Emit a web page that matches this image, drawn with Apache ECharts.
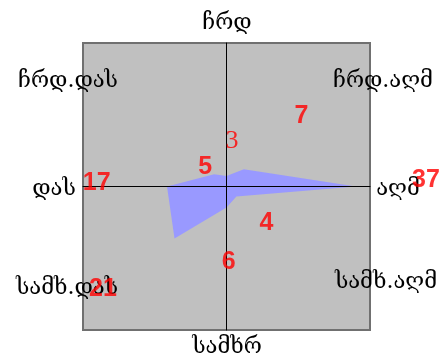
<!DOCTYPE html>
<html lang="ka">
<head>
    <meta charset="UTF-8">
    <title>ქარის ვარდი</title>
    <style>
        body { margin: 0; padding: 0; background: #fff; }
        #rose { width: 443px; height: 361px; }
    </style>
</head>
<body>
    <div id="rose"></div>
    <script src="https://cdn.jsdelivr.net/npm/echarts@6/dist/echarts.min.js"></script>
    <script>
        // directions, clockwise from north
        var directions = ['ჩრდ', 'ჩრდ.აღმ', 'აღმ', 'სამხ.აღმ', 'სამხრ', 'სამხ.დას', 'დას', 'ჩრდ.დას'];
        var angles = [90, 45, 0, -45, -90, -135, 180, 135];
        // percent of cases per direction
        var values = [3, 7, 37, 4, 6, 21, 17, 5];

        // where each number is written (axis units)
        var labelPos = [[1.6, 13], [21.4, 20.1], [57, 1.9], [11.4, -10.6],
                        [0.6, -21.7], [-35.3, -29.3], [-37.1, 0.9], [-6.1, 5.6]];

        var axisMax = 41;

        var polyData = values.map(function (v, i) {
            var a = angles[i] * Math.PI / 180;
            return [v * Math.cos(a), v * Math.sin(a)];
        });

        var labelData = values.map(function (v, i) {
            var item = { value: [labelPos[i][0], labelPos[i][1], v] };
            if (i === 0) {
                item.label = { fontFamily: 'Liberation Serif', fontWeight: 'normal', fontSize: 26 };
            }
            return item;
        });

        var chart = echarts.init(document.getElementById('rose'));

        var geoFont = { fontFamily: 'DejaVu Serif', fontSize: 22, fill: '#000' };
        function dirText(txt, x, y) {
            return {
                type: 'text', x: x, y: y, z: 20,
                style: Object.assign({ text: txt, align: 'center', verticalAlign: 'middle' }, geoFont)
            };
        }

        var option = {
            animation: false,
            grid: {
                left: 83, top: 43, width: 287, height: 287,
                show: true, backgroundColor: '#c0c0c0',
                borderColor: '#707070', borderWidth: 2
            },
            xAxis: {
                type: 'value', min: -axisMax, max: axisMax, z: 5,
                axisLine: { onZero: true, lineStyle: { color: '#000', width: 1 } },
                axisTick: { show: false }, axisLabel: { show: false }, splitLine: { show: false }
            },
            yAxis: {
                type: 'value', min: -axisMax, max: axisMax, z: 5,
                axisLine: { onZero: true, lineStyle: { color: '#000', width: 1 } },
                axisTick: { show: false }, axisLabel: { show: false }, splitLine: { show: false }
            },
            graphic: [
                dirText(directions[0], 227, 23),
                dirText(directions[1], 383, 81),
                dirText(directions[2], 398, 189),
                dirText(directions[3], 386, 282),
                dirText(directions[4], 227, 347),
                dirText(directions[5], 67, 288),
                dirText(directions[6], 54, 189),
                dirText(directions[7], 68, 81)
            ],
            series: [
                {
                    type: 'custom',
                    z: 1,
                    data: [0],
                    renderItem: function (params, api) {
                        var pts = polyData.map(function (p) { return api.coord(p); });
                        return {
                            type: 'polygon',
                            shape: { points: pts },
                            style: { fill: '#9999ff' }
                        };
                    }
                },
                {
                    type: 'scatter',
                    z: 30,
                    zlevel: 1,
                    clip: false,
                    symbolSize: 0,
                    data: labelData,
                    label: {
                        show: true,
                        position: 'inside',
                        formatter: function (p) { return p.value[2]; },
                        color: '#ff0000',
                        fontFamily: 'Liberation Sans',
                        fontWeight: 'bold',
                        fontSize: 25
                    }
                }
            ]
        };

        chart.setOption(option);
    </script>
</body>
</html>
